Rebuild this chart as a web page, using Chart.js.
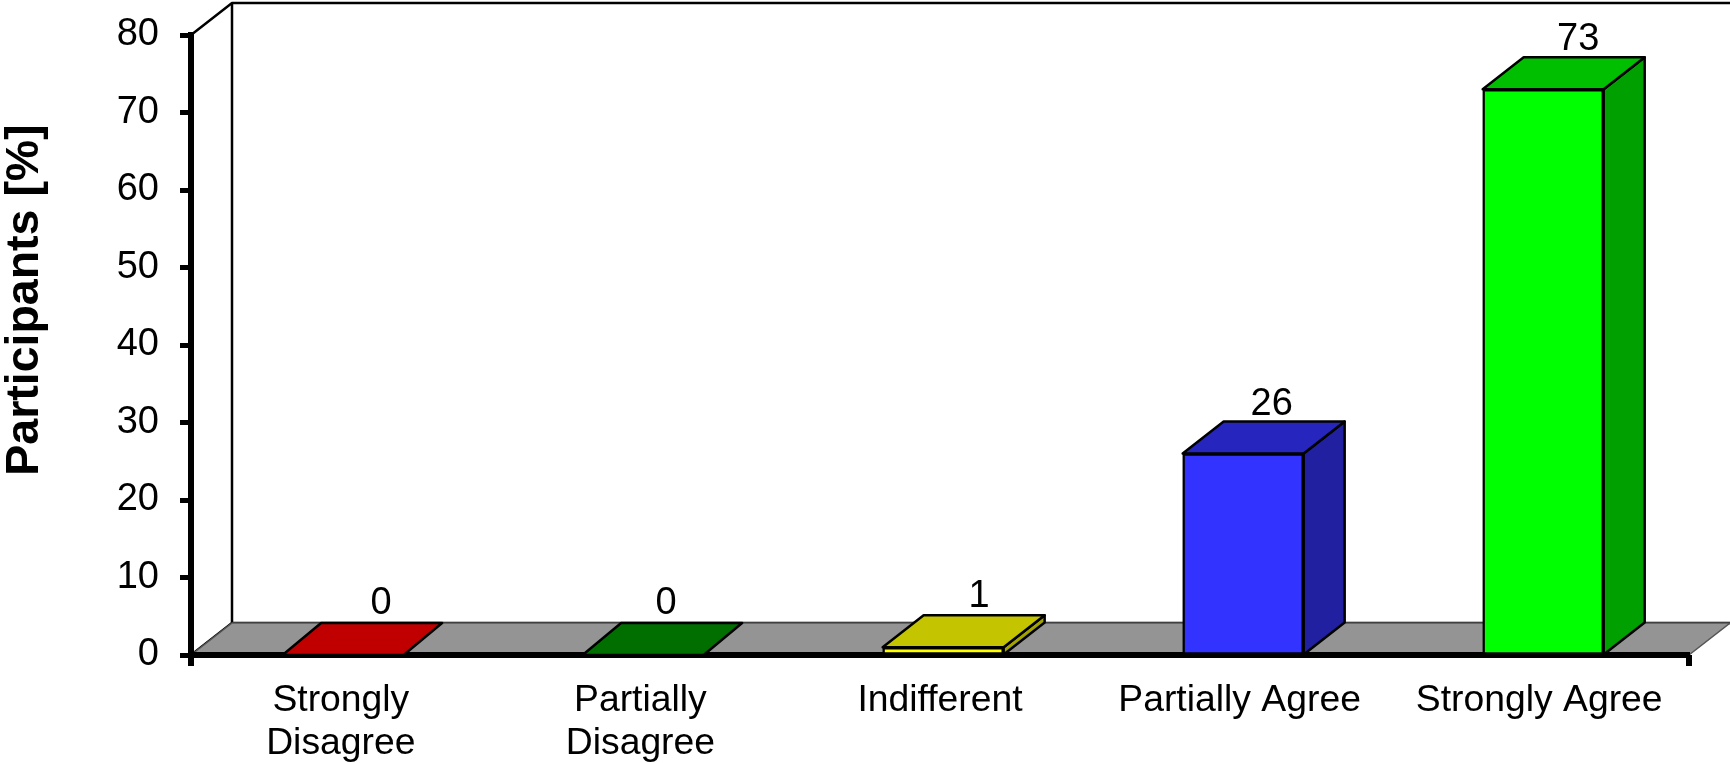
<!DOCTYPE html>
<html>
<head>
<meta charset="utf-8">
<title>Participants</title>
<script src="https://cdn.jsdelivr.net/npm/chart.js@4"></script>
<style>
  html, body { margin: 0; padding: 0; background: #fff; overflow: hidden; }
  canvas { display: block; }
</style>
</head>
<body>
<canvas id="chart" width="1730" height="763"></canvas>
<script>
// data
const categories = [['Strongly', 'Disagree'], ['Partially', 'Disagree'], 'Indifferent', 'Partially Agree', 'Strongly Agree'];
const values = [0, 0, 1, 26, 73];
const yTicks = [0, 10, 20, 30, 40, 50, 60, 70, 80];
const yTitle = 'Participants [%]';

// colours per bar: front, top, side
const frontColors = ['#ff0000', '#008000', '#ffff00', '#3333ff', '#00ff00'];
const topColors = ['#c00000', '#006f00', '#c4c400', '#2626bf', '#00bf00'];
const sideColors = ['#a00000', '#005000', '#a3a300', '#2020a0', '#00a000'];

// oblique depth of the box
const wallDepthX = 41;
const depthY = 32;
const barDepthX = [38.5, 38.5, 41, 41, 41];
// value label placement relative to the bar centre / back edge of the top
const labelDx = [38, 23, 36, 28.5, 35];
const labelGap = [9, 9, 8, 7, 7];

const FONT = '"Liberation Sans", Arial, sans-serif';

function poly(ctx, pts, fill, stroke, lw) {
  ctx.beginPath();
  pts.forEach((p, i) => i ? ctx.lineTo(p[0], p[1]) : ctx.moveTo(p[0], p[1]));
  ctx.closePath();
  if (fill) { ctx.fillStyle = fill; ctx.fill(); }
  if (stroke) { ctx.strokeStyle = stroke; ctx.lineWidth = lw; ctx.lineJoin = 'round'; ctx.stroke(); }
}

const box3d = {
  id: 'box3d',
  beforeDraw(chart) {
    // back wall, side wall, floor
    const { ctx, chartArea: a } = chart;
    const w = chart.width;
    ctx.save();
    ctx.fillStyle = '#fff';
    ctx.fillRect(0, 0, w, chart.height);
    poly(ctx, [[a.left, a.top], [a.left + wallDepthX, a.top - depthY], [w + 4, a.top - depthY], [w + 4, a.bottom - depthY], [a.left + wallDepthX, a.bottom - depthY], [a.left, a.bottom]], '#fff', '#000', 2.5);
    ctx.beginPath();
    ctx.moveTo(a.left + wallDepthX, a.top - depthY);
    ctx.lineTo(a.left + wallDepthX, a.bottom - depthY);
    ctx.strokeStyle = '#000';
    ctx.lineWidth = 2.5;
    ctx.stroke();
    poly(ctx, [[a.left, a.bottom], [a.left + wallDepthX, a.bottom - depthY], [a.right + wallDepthX, a.bottom - depthY], [a.right, a.bottom]], '#949494', '#555', 1.5);
    ctx.restore();
  },
  afterDatasetsDraw(chart) {
    const { ctx, chartArea: a } = chart;
    const bars = chart.getDatasetMeta(0).data;
    ctx.save();
    bars.forEach((bar, i) => {
      const l = bar.x - bar.width / 2, r = bar.x + bar.width / 2, t = bar.y, b = bar.base;
      const dx = barDepthX[i];
      if (b - t > 0.5) {
        poly(ctx, [[r, t], [r + dx, t - depthY], [r + dx, b - depthY], [r, b]], sideColors[i], '#000', 2.5);
      }
      poly(ctx, [[l, t], [l + dx, t - depthY], [r + dx, t - depthY], [r, t]], topColors[i], '#000', 2.5);
      ctx.fillStyle = '#000';
      ctx.font = '38px ' + FONT;
      ctx.textAlign = 'center';
      ctx.textBaseline = 'alphabetic';
      ctx.fillText(String(values[i]), bar.x + labelDx[i], t - depthY - labelGap[i]);
    });
    // end ticks of the category axis
    ctx.strokeStyle = '#000';
    ctx.lineWidth = 6;
    [a.left, a.right].forEach(x => {
      ctx.beginPath();
      ctx.moveTo(x, a.bottom);
      ctx.lineTo(x, a.bottom + 11);
      ctx.stroke();
    });
    // y axis title
    ctx.translate(25, 300);
    ctx.rotate(-Math.PI / 2);
    ctx.font = 'bold 46.5px ' + FONT;
    ctx.textAlign = 'center';
    ctx.textBaseline = 'middle';
    ctx.fillText(yTitle, 0, 0);
    ctx.restore();
  }
};

new Chart(document.getElementById('chart'), {
  type: 'bar',
  data: {
    labels: categories,
    datasets: [{
      data: values.map((v, i) => ({ x: i, y: v })),
      xAxisID: 'xBars',
      yAxisID: 'y',
      backgroundColor: frontColors,
      borderColor: '#000',
      borderWidth: 2.5,
      borderSkipped: false,
      barThickness: 121
    }]
  },
  options: {
    responsive: false,
    animation: false,
    events: [],
    layout: { padding: { top: 35, right: 41, left: 0, bottom: 0 } },
    plugins: { legend: { display: false }, tooltip: { enabled: false } },
    scales: {
      x: {
        type: 'category',
        labels: categories,
        offset: true,
        z: 1,
        grid: { display: false, drawTicks: false, offset: true },
        border: { display: true, color: '#000', width: 6 },
        afterFit(scale) { scale.height = 108; },
        ticks: {
          autoSkip: false,
          maxRotation: 0,
          minRotation: 0,
          padding: 24,
          color: '#000',
          font: { family: FONT, size: 37.3, lineHeight: 1.16 }
        }
      },
      // hidden axis that carries the bars: boxes sit a little right of their labels
      xBars: {
        axis: 'x',
        type: 'linear',
        display: false,
        offset: false,
        min: -0.507,
        max: 4.486,
        grid: { display: false }
      },
      y: {
        min: 0,
        max: 80,
        z: 1,
        afterFit(scale) {
          scale.width = 191;
          scale.paddingTop = 0;
          scale.paddingBottom = 0;
        },
        afterBuildTicks(scale) { scale.ticks = yTicks.map(v => ({ value: v })); },
        grid: { drawOnChartArea: false, color: '#000', tickColor: '#000', tickLength: 11, tickWidth: 5 },
        border: { display: true, color: '#000', width: 6 },
        ticks: {
          padding: 21,
          color: '#000',
          font: { family: FONT, size: 38 }
        }
      }
    }
  },
  plugins: [box3d]
});
</script>
</body>
</html>
